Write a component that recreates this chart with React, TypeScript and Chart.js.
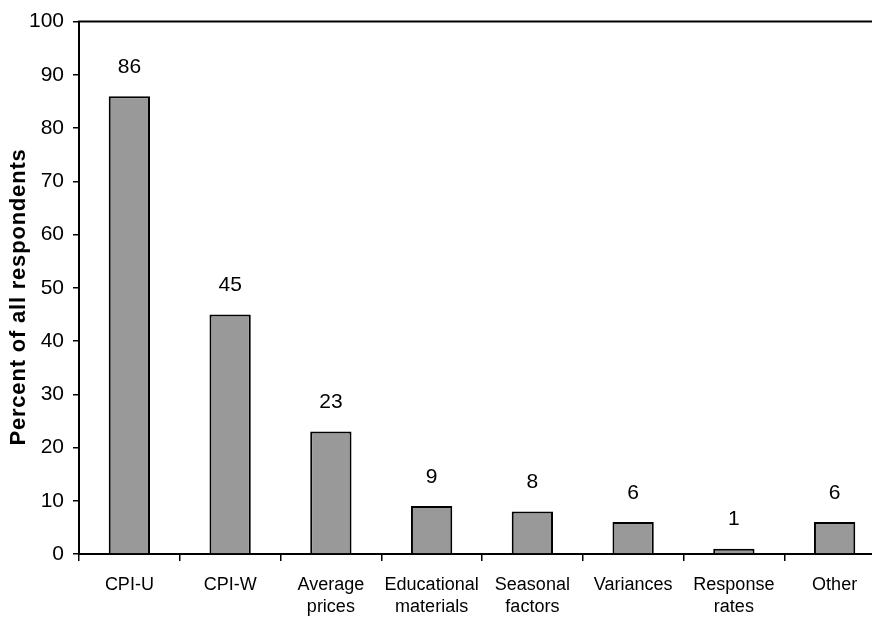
import React, { useEffect, useRef } from "react";
import { Chart, registerables } from "chart.js";

Chart.register(...registerables);

const categories: (string | string[])[] = [
  "CPI-U",
  "CPI-W",
  ["Average", "prices"],
  ["Educational", "materials"],
  ["Seasonal", "factors"],
  "Variances",
  ["Response", "rates"],
  "Other",
];
const percentValues: number[] = [86, 45, 23, 9, 8, 6, 1, 6];
const yTickValues: number[] = [0, 10, 20, 30, 40, 50, 60, 70, 80, 90, 100];
const yTitle = "Percent of all respondents";

const FONT = "'Liberation Sans', Arial, Helvetica, sans-serif";

const decorPlugin = {
  id: "decor",
  afterDatasetsDraw(chart: any) {
    const { ctx, chartArea } = chart;
    const meta = chart.getDatasetMeta(0);
    ctx.save();
    // data labels
    ctx.fillStyle = "#000";
    ctx.font = `21px ${FONT}`;
    ctx.textAlign = "center";
    ctx.textBaseline = "middle";
    meta.data.forEach((bar: any, i: number) => {
      ctx.fillText(String(percentValues[i]), bar.x, bar.y - 29);
    });
    // top border line
    ctx.strokeStyle = "#000";
    ctx.lineWidth = 2;
    ctx.beginPath();
    ctx.moveTo(chartArea.left - 1, chartArea.top);
    ctx.lineTo(chart.width, chartArea.top);
    ctx.stroke();
    // y title
    ctx.translate(19, 297);
    ctx.rotate(-Math.PI / 2);
    ctx.font = `bold 22px ${FONT}`;
    try {
      (ctx as any).letterSpacing = "0.8px";
    } catch (e) {}
    ctx.fillText(yTitle, 0, 0);
    ctx.restore();
  },
};

export default function App() {
  const ref = useRef<HTMLCanvasElement | null>(null);
  useEffect(() => {
    if (!ref.current) return;
    const chart = new Chart(ref.current, {
      type: "bar",
      data: {
        labels: categories as any,
        datasets: [
          {
            data: percentValues,
            backgroundColor: "#999999",
            borderColor: "#000000",
            borderWidth: 2,
            categoryPercentage: 1,
            barPercentage: 0.41,
          },
        ],
      },
      options: {
        responsive: false,
        animation: false,
        layout: { padding: { top: 20, right: 15, left: 0, bottom: 0 } },
        plugins: {
          legend: { display: false },
          tooltip: { enabled: false },
          title: { display: false },
        },
        scales: {
          x: {
            grid: {
              display: true,
              drawOnChartArea: false,
              drawTicks: true,
              tickLength: 7,
              color: "#000",
              lineWidth: 1.5,
              offset: true,
            },
            border: { display: true, color: "#000", width: 2 },
            ticks: {
              color: "#000",
              font: { family: FONT, size: 18, lineHeight: 1.22 },
              padding: 13,
              maxRotation: 0,
              minRotation: 0,
              autoSkip: false,
            },
            afterFit: (scale: any) => {
              scale.height = 65;
            },
          },
          y: {
            min: 0,
            max: 100,
            afterBuildTicks: (scale: any) => {
              scale.ticks = yTickValues.map((v) => ({ value: v }));
            },
            grid: {
              display: true,
              drawOnChartArea: false,
              drawTicks: true,
              tickLength: 6,
              color: "#000",
              lineWidth: 1.5,
            },
            border: { display: true, color: "#000", width: 2 },
            ticks: {
              color: "#000",
              font: { family: FONT, size: 21 },
              padding: 9,
            },
            afterFit: (scale: any) => {
              scale.width = 79;
            },
          },
        },
      },
      plugins: [decorPlugin],
    });
    return () => chart.destroy();
  }, []);
  return (
    <div
      style={{
        position: "fixed",
        left: 0,
        top: 0,
        width: 872,
        height: 619,
        overflow: "hidden",
        background: "#fff",
      }}
    >
      <canvas ref={ref} width={900} height={619} style={{ display: "block" }} />
    </div>
  );
}
